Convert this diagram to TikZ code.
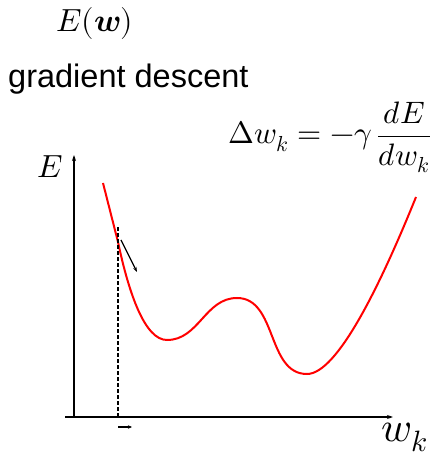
\documentclass[tikz,border=0pt]{standalone}
\usepackage{amsmath}
\usepackage{fontspec}
\usepackage{unicode-math}
\setmathfont{Latin Modern Math}
\newfontfamily\labelfont{Liberation Sans}
\usepackage{tikz}
\usetikzlibrary{arrows.meta}

\begin{document}
\begin{tikzpicture}[x=1pt, y=1pt,
		axisline/.style={line width=1.4pt, -{Stealth[length=6pt, width=4pt]}},
		bigmath/.style={inner sep=0pt, font=\fontsize{32}{36}\selectfont}]
			\useasboundingbox (0,0) rectangle (433,456);
			
			% Coordinate axes
			\coordinate (O) at (74,39);
			\coordinate (Xend) at (393,39);
			\coordinate (Xstart) at (65,39);
			\coordinate (Ytop) at (74,301);
			\draw[axisline] (O) -- (Ytop);
			\draw[axisline] (Xstart) -- (Xend);
			
			% Axis labels
			\node[bigmath, anchor=base west] (Elabel) at (37,278) {$E$};
			\node[inner sep=0pt, anchor=base west, font=\fontsize{42}{46}\selectfont] (wlabel) at (381,15) {$w_k$};
			
			% Error curve
			\coordinate (C0) at (103,273);
			\coordinate (C1) at (118,214);
			\coordinate (Min1) at (167,116);
			\coordinate (Max1) at (237,158);
			\coordinate (Min2) at (307,82);
			\coordinate (C5) at (416,259);
			\draw[red, line width=2pt] (C0) -- (C1)
				.. controls (129,162) and (145,116) .. (Min1)
				to[out=0, in=180] (Max1)
				to[out=0, in=180] (Min2)
				.. controls (337,82) and (380,170) .. (C5);
			
			% Current weight and step
			\coordinate (Wbot) at (118,39);
			\coordinate (Wtop) at (118,229);
			\draw[dash pattern=on 4pt off 2pt, line width=1.1pt] (Wbot) -- (Wtop);
			\coordinate (Sa) at (118,29);
			\coordinate (Sb) at (132,29);
			\draw[line width=1.2pt, -{Stealth[length=4pt, width=3.5pt]}] (Sa) -- (Sb);
			
			% Gradient direction
			\coordinate (Ga) at (121,216);
			\coordinate (Gb) at (137,184);
			\draw[line width=1.2pt, -{Stealth[length=5pt, width=3.5pt]}] (Ga) -- (Gb);
			
			% Labels
			\node[bigmath, anchor=base] (title) at (95,424) {$E(\symbfit{w})$};
			\node[inner sep=0pt, anchor=base west, font=\labelfont\fontsize{32.5}{36}\selectfont] (method) at (8,368) {gradient descent};
			\node[inner sep=0pt, anchor=base east, font=\fontsize{31}{35}\selectfont] (rule) at (431,312) {$\displaystyle \Delta w_k = -\gamma\,\frac{dE}{dw_k}$};
			
		\end{tikzpicture}
\end{document}
